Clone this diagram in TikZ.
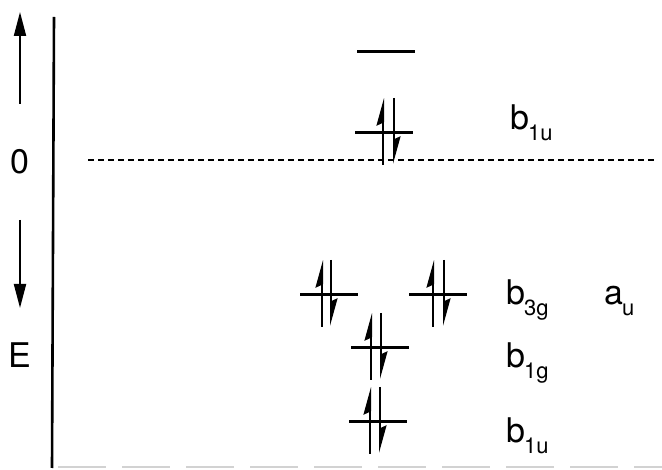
\documentclass[tikz,border=0pt]{standalone}
\usepackage{fontspec}
\setmainfont{TeX Gyre Heros}
\usetikzlibrary{arrows.meta}
\newcommand{\mosym}[2]{#1\kern-1pt\raisebox{-11pt}{\fontsize{22}{22}\selectfont #2}}

\begin{document}
\begin{tikzpicture}[x=1pt,y=-1pt,
  level/.style={line width=3pt},
  spin/.style={line width=2pt,-{Stealth[left,length=24pt,width=13pt,inset=3pt]}},
  lab/.style={anchor=base west,inner sep=0pt,font=\fontsize{34}{40}\selectfont}]
  \useasboundingbox (0,0) rectangle (662,470);
  % energy axis
  \coordinate (top) at (54,17);
  \coordinate (bot) at (52,468);
  \draw[line width=2.6pt] (top)--(bot);
  \draw[gray!35,line width=1.2pt,dash pattern=on 48pt off 16pt] (58,467)--(662,467);
  \coordinate (up) at (20,12);
  \coordinate (dn) at (20,308);
  \draw[line width=2pt,-{Triangle[length=24pt,width=12pt]}] (20,104)--(up);
  \draw[line width=2pt,-{Triangle[length=24pt,width=12pt]}] (20,220)--(dn);
  \node[lab,anchor=center] (zero) at (20,162) {0};
  \node[lab,anchor=center] (E) at (20,355) {E};
  \draw[line width=2.2pt,dash pattern=on 6pt off 4pt] (88,160)--(655,160);
  % empty level
  \draw[level] (357,52)--(415,52);
  % filled levels: centre x / y / up spin x / down spin x
  \foreach \cx/\cy/\ua/\da in {384/133/383/394, 329/295/322/331,
      438/295/433/444, 380/348/371/381, 378/422/370/380}{
    \draw[level] (\cx-29,\cy)--(\cx+29,\cy);
    \draw[spin] (\ua,\cy+32)--(\ua,\cy-35);
    \draw[spin] (\da,\cy-35)--(\da,\cy+31);
  }
  \node[lab] (b1u) at (510,130) {\mosym{b}{1u}};
  \node[lab] (b3g) at (506,305) {\mosym{b}{3g}};
  \node[lab] (au) at (604,305) {\mosym{a}{u}};
  \node[lab] (b1g) at (506,368) {\mosym{b}{1g}};
  \node[lab] (b1uL) at (506,443) {\mosym{b}{1u}};
\end{tikzpicture}
\end{document}
